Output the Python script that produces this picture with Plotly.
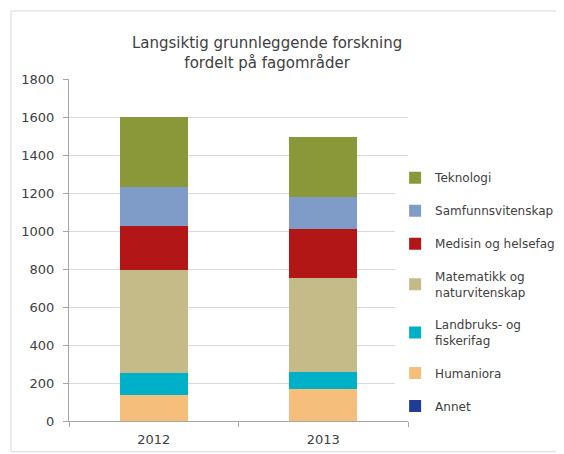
import plotly.graph_objects as go

# data
years = ["2012", "2013"]
annet = [2, 2]
humaniora = [137, 168]
landbruk = [114, 86]
matematikk = [544, 497]
medisin = [228, 256]
samfunn = [207, 168]
teknologi = [370, 316]

series = [
    ("Annet", annet, "#1F3C96"),
    ("Humaniora", humaniora, "#F5BE7B"),
    ("Landbruks- og<br>fiskerifag", landbruk, "#00B0C8"),
    ("Matematikk og<br>naturvitenskap", matematikk, "#C4BB89"),
    ("Medisin og helsefag", medisin, "#B31616"),
    ("Samfunnsvitenskap", samfunn, "#7F9BC8"),
    ("Teknologi", teknologi, "#8A983A"),
]

fig = go.Figure()
for i, (name, vals, col) in enumerate(series):
    fig.add_trace(go.Bar(x=years, y=vals, name=name, marker_color=col,
                         marker_line_width=0, legendgroup=str(i),
                         legendrank=len(series) - i))

# light frame around the whole chart (like the Excel chart area)
fig.add_shape(type="rect", xref="paper", yref="paper",
              x0=-0.171, x1=1.454, y0=-0.09, y1=1.199,
              line=dict(color="#D9D9D9", width=1))

# page body has an 8px margin, so the figure is 8px smaller than the window
fig.update_layout(
    width=556, height=446,
    margin=dict(l=61, r=156, t=71, b=33, autoexpand=False),
    barmode="stack", bargap=0.6,
    paper_bgcolor="white", plot_bgcolor="white",
    font=dict(family="DejaVu Sans", size=12, color="#404040"),
    title=dict(text="Langsiktig grunnleggende forskning<br>fordelt på fagområder",
               x=0.466, xanchor="center", y=0.91, yanchor="middle",
               font=dict(size=15, color="#404040")),
    legend=dict(x=0.962, y=0.754, xanchor="left", yanchor="top",
                traceorder="grouped", tracegroupgap=14,
                itemwidth=30, font=dict(size=12)),
    showlegend=True,
)
fig.update_yaxes(range=[0, 1800], dtick=200, showgrid=True, gridcolor="#D9D9D9",
                 showline=True, linecolor="#A6A6A6", ticks="outside", ticklen=5,
                 tickcolor="#A6A6A6", zeroline=False, ticklabelstandoff=6,
                 tickfont=dict(size=13))
fig.update_xaxes(showline=True, linecolor="#A6A6A6", ticks="outside", ticklen=5,
                 tickcolor="#A6A6A6", tickson="boundaries", ticklabelstandoff=6,
                 tickfont=dict(size=13))

fig.write_html("out.html")
